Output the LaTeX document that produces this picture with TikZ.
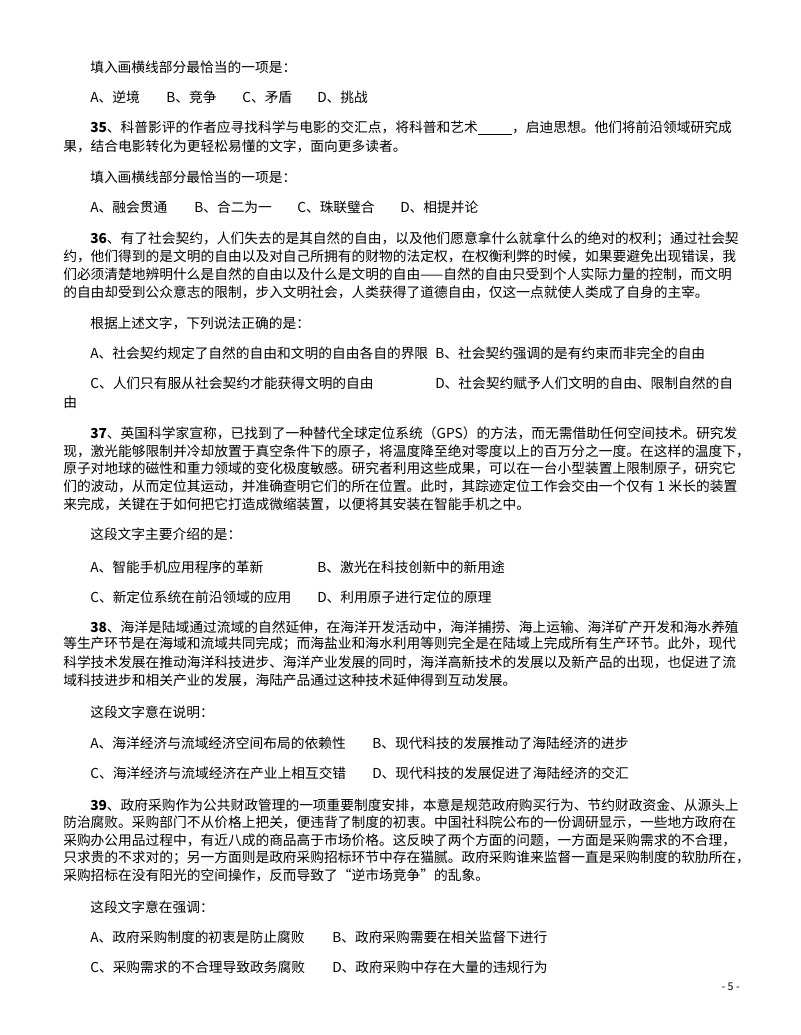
\documentclass[tikz,border=0pt]{standalone}
\usepackage{fontspec}
\setmainfont{Noto Sans CJK SC}
\XeTeXlinebreaklocale "zh"
\XeTeXlinebreakskip=0pt plus 2pt
\newcommand\jfull[1]{\hbox to 505.5pt{#1}}
\newcommand\jind[1]{\hbox to 485.25pt{#1}}
\begin{document}
\begin{tikzpicture}[x=0.75pt,y=-0.75pt,
  txt/.style={anchor=west,inner sep=0pt,font=\fontsize{10.3pt}{12pt}\selectfont}]
\useasboundingbox (0,0) rectangle (800,1035);
\fill[white] (0,0) rectangle (800,1035);
% Q34 tail
\node[txt] (a1) at (90,67) {填入画横线部分最恰当的一项是：};
\node[txt] (a2) at (90,97) {A、逆境};
\node[txt] (a3) at (166,97) {B、竞争};
\node[txt] (a4) at (242,97) {C、矛盾};
\node[txt] (a5) at (317,97) {D、挑战};
% Q35
\node[txt] (b1) at (90,128) {\jind{\textbf{35}、科普影评的作者应寻找科学与电影的交汇点，将科普和艺术\underline{\hspace{2.5em}}，启迪思想。他们将前沿领域研究成}};
\node[txt] (b2) at (63,146) {果，结合电影转化为更轻松易懂的文字，面向更多读者。};
\node[txt] (b3) at (90,177) {填入画横线部分最恰当的一项是：};
\node[txt] (b4) at (90,207) {A、融会贯通};
\node[txt] (b5) at (194,207) {B、合二为一};
\node[txt] (b6) at (297,207) {C、珠联璧合};
\node[txt] (b7) at (400,207) {D、相提并论};
% Q36
\node[txt] (c1) at (90,239) {\jind{\textbf{36}、有了社会契约，人们失去的是其自然的自由，以及他们愿意拿什么就拿什么的绝对的权利；通过社会契}};
\node[txt] (c2) at (63,256) {\jfull{约，他们得到的是文明的自由以及对自己所拥有的财物的法定权，在权衡利弊的时候，如果要避免出现错误，我}};
\node[txt] (c3) at (63,274) {\jfull{们必须清楚地辨明什么是自然的自由以及什么是文明的自由——自然的自由只受到个人实际力量的控制，而文明}};
\node[txt] (c4) at (63,292) {的自由却受到公众意志的限制，步入文明社会，人类获得了道德自由，仅这一点就使人类成了自身的主宰。};
\node[txt] (c5) at (90,323) {根据上述文字，下列说法正确的是：};
\node[txt] (c6) at (90,353) {A、社会契约规定了自然的自由和文明的自由各自的界限};
\node[txt] (c7) at (435,353) {B、社会契约强调的是有约束而非完全的自由};
\node[txt] (c8) at (90,383) {C、人们只有服从社会契约才能获得文明的自由};
\node[txt] (c9) at (435,383) {D、社会契约赋予人们文明的自由、限制自然的自};
\node[txt] (c10) at (63,402) {由};
% Q37
\node[txt] (d1) at (90,433) {\jind{\textbf{37}、英国科学家宣称，已找到了一种替代全球定位系统（GPS）的方法，而无需借助任何空间技术。研究发}};
\node[txt] (d2) at (63,451) {\jfull{现，激光能够限制并冷却放置于真空条件下的原子，将温度降至绝对零度以上的百万分之一度。在这样的温度下，}};
\node[txt] (d3) at (63,468) {\jfull{原子对地球的磁性和重力领域的变化极度敏感。研究者利用这些成果，可以在一台小型装置上限制原子，研究它}};
\node[txt] (d4) at (63,486) {\jfull{们的波动，从而定位其运动，并准确查明它们的所在位置。此时，其踪迹定位工作会交由一个仅有 1 米长的装置}};
\node[txt] (d5) at (63,504) {来完成，关键在于如何把它打造成微缩装置，以便将其安装在智能手机之中。};
\node[txt] (d6) at (90,534) {这段文字主要介绍的是：};
\node[txt] (d7) at (90,567) {A、智能手机应用程序的革新};
\node[txt] (d8) at (317,567) {B、激光在科技创新中的新用途};
\node[txt] (d9) at (90,597) {C、新定位系统在前沿领域的应用};
\node[txt] (d10) at (317,597) {D、利用原子进行定位的原理};
% Q38
\node[txt] (e1) at (90,627) {\jind{\textbf{38}、海洋是陆域通过流域的自然延伸，在海洋开发活动中，海洋捕捞、海上运输、海洋矿产开发和海水养殖}};
\node[txt] (e2) at (63,644) {\jfull{等生产环节是在海域和流域共同完成；而海盐业和海水利用等则完全是在陆域上完成所有生产环节。此外，现代}};
\node[txt] (e3) at (63,662) {\jfull{科学技术发展在推动海洋科技进步、海洋产业发展的同时，海洋高新技术的发展以及新产品的出现，也促进了流}};
\node[txt] (e4) at (63,680) {域科技进步和相关产业的发展，海陆产品通过这种技术延伸得到互动发展。};
\node[txt] (e5) at (90,712) {这段文字意在说明：};
\node[txt] (e6) at (90,743) {A、海洋经济与流域经济空间布局的依赖性};
\node[txt] (e7) at (372,743) {B、现代科技的发展推动了海陆经济的进步};
\node[txt] (e8) at (90,773) {C、海洋经济与流域经济在产业上相互交错};
\node[txt] (e9) at (372,773) {D、现代科技的发展促进了海陆经济的交汇};
% Q39
\node[txt] (f1) at (90,805) {\jind{\textbf{39}、政府采购作为公共财政管理的一项重要制度安排，本意是规范政府购买行为、节约财政资金、从源头上}};
\node[txt] (f2) at (63,822) {\jfull{防治腐败。采购部门不从价格上把关，便违背了制度的初衷。中国社科院公布的一份调研显示，一些地方政府在}};
\node[txt] (f3) at (63,840) {\jfull{采购办公用品过程中，有近八成的商品高于市场价格。这反映了两个方面的问题，一方面是采购需求的不合理，}};
\node[txt] (f4) at (63,858) {\jfull{只求贵的不求对的；另一方面则是政府采购招标环节中存在猫腻。政府采购谁来监督一直是采购制度的软肋所在，}};
\node[txt] (f5) at (63,875) {采购招标在没有阳光的空间操作，反而导致了“逆市场竞争”的乱象。};
\node[txt] (f6) at (90,907) {这段文字意在强调：};
\node[txt] (f7) at (90,937) {A、政府采购制度的初衷是防止腐败};
\node[txt] (f8) at (332,937) {B、政府采购需要在相关监督下进行};
\node[txt] (f9) at (90,967) {C、采购需求的不合理导致政务腐败};
\node[txt] (f10) at (332,967) {D、政府采购中存在大量的违规行为};
\node[txt,anchor=east,font=\fontsize{8pt}{10pt}\selectfont] (pg) at (740,987) {- 5 -};
\end{tikzpicture}
\end{document}
